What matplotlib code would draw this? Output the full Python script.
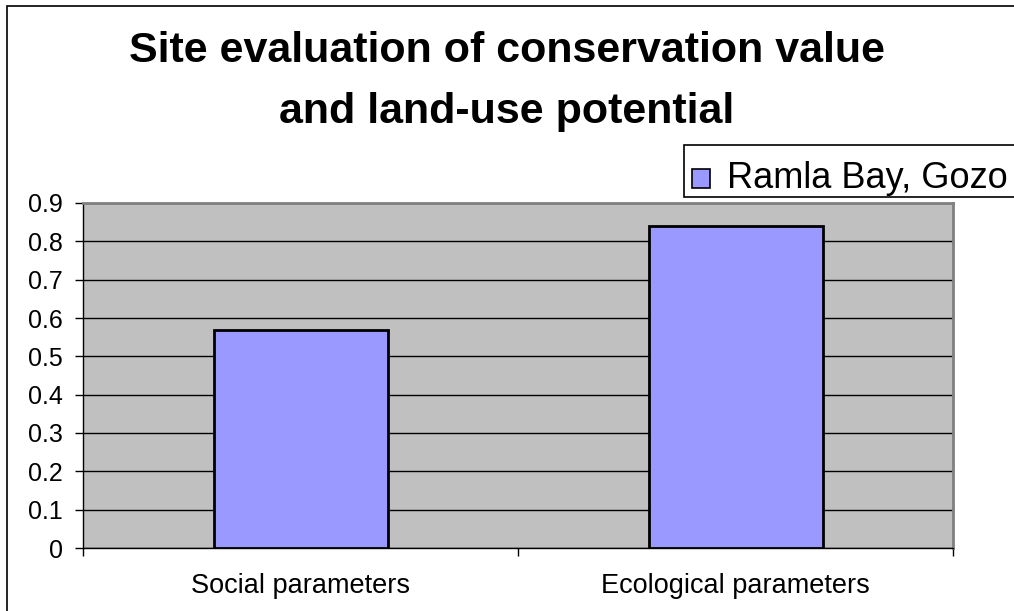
import numpy as np
import matplotlib.pyplot as plt
from matplotlib.patches import Rectangle

categories = ['Social parameters', 'Ecological parameters']
values = [0.57, 0.84]
series_name = 'Ramla Bay, Gozo'
title_lines = ['Site evaluation of conservation value', 'and land-use potential']
yticks = np.round(np.arange(0, 1.0, 0.1), 1)

bar_color = '#9999FF'
W, H = 1014, 611
plt.rcParams['font.family'] = ['Liberation Sans', 'DejaVu Sans']
fig = plt.figure(figsize=(W / 100, H / 100), dpi=100)


def fy(py):
    # pixel row (from top) -> figure fraction
    return 1 - py / H


# outer chart frame, cut off at right and bottom
fig.patches.append(Rectangle((7 / W, -0.1), 1.2, fy(6) + 0.1, transform=fig.transFigure,
                             fill=False, edgecolor='black', linewidth=1.2))

ax = fig.add_axes([83 / W, fy(548), (953 - 83) / W, (548 - 203) / H])
ax.set_facecolor('#C0C0C0')

x = np.arange(len(categories)) + 0.5
ax.bar(x, values, width=0.4, color=bar_color, edgecolor='black', linewidth=2, zorder=3)

ax.set_xlim(0, len(categories))
ax.set_ylim(0, 0.9)
ax.set_yticks(yticks)
ax.set_yticklabels([('%g' % v) for v in yticks], fontsize=18)
ax.yaxis.grid(True, color='black', linewidth=1)
ax.set_axisbelow(True)

ax.set_xticks(np.arange(len(categories) + 1))
ax.set_xticklabels([])
ax.set_xticks(x, minor=True)
ax.set_xticklabels(categories, minor=True, fontsize=19.5)
ax.tick_params(axis='x', which='minor', length=0, pad=18)
ax.tick_params(axis='x', which='major', length=6, width=1, direction='out')
ax.tick_params(axis='y', length=6, width=1, direction='out', pad=8.4)

for s in ['top', 'right']:
    ax.spines[s].set_color('#808080')
    ax.spines[s].set_linewidth(2)
for s in ['left', 'bottom']:
    ax.spines[s].set_color('black')
    ax.spines[s].set_linewidth(1)

fig.text(0.5, fy(62), title_lines[0], ha='center', va='baseline', fontsize=31, fontweight='bold')
fig.text(0.5, fy(123), title_lines[1], ha='center', va='baseline', fontsize=31, fontweight='bold')

# legend box, runs off the right edge like the reference
fig.patches.append(Rectangle((684 / W, fy(197)), 0.5, (197 - 145) / H, transform=fig.transFigure,
                             facecolor='white', edgecolor='black', linewidth=1.2))
fig.patches.append(Rectangle((692 / W, fy(188)), 18 / W, 19 / H, transform=fig.transFigure,
                             facecolor=bar_color, edgecolor='black', linewidth=1.2))
fig.text(727 / W, fy(188), series_name, ha='left', va='baseline', fontsize=26)

fig.savefig('out.png', dpi=100)
